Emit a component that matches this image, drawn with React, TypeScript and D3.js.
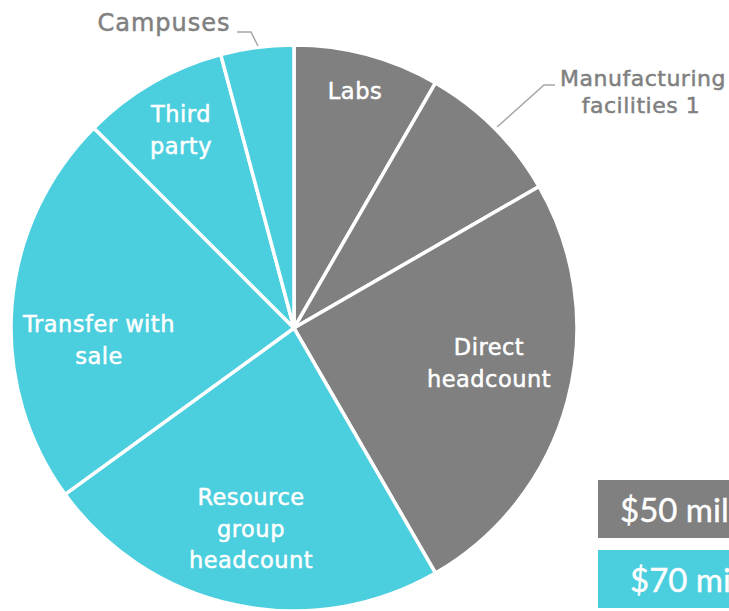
import React from "react";
import * as d3 from "d3";

const categories = ["Labs", "Manufacturing facilities 1", "Direct headcount", "Resource group headcount", "Transfer with sale", "Third party", "Campuses"];
const values = [10, 10, 30, 28, 27, 10, 5];
const groups = ["gray", "gray", "gray", "blue", "blue", "blue", "blue"];
const legendLabels = ["$50 mil", "$70 mil"];

const GRAY = "#808080";
const BLUE = "#4bcedd";

export default function App() {
  const W = 729, H = 611;
  const cx = 294, cy = 328, R = 283;
  const pie = d3.pie<number>().sort(null).value((d) => d)(values);
  const arc = d3.arc<d3.PieArcDatum<number>>().innerRadius(0).outerRadius(R);
  const font = "'DejaVu Sans', sans-serif";

  // inside labels: line breaks and first baseline / center x (layout)
  const inside: { i: number; lines: string[]; x: number; y: number }[] = [
    { i: 0, lines: ["Labs"], x: 355, y: 99 },
    { i: 2, lines: ["Direct", "headcount"], x: 489, y: 355 },
    { i: 3, lines: ["Resource", "group", "headcount"], x: 251, y: 505 },
    { i: 4, lines: ["Transfer with", "sale"], x: 99, y: 332 },
    { i: 5, lines: ["Third", "party"], x: 181, y: 122 },
  ];
  const lh = 31.5;

  return (
    <svg width={W} height={H} style={{ position: "absolute", left: 0, top: 0, fontFamily: font }}>
      <g transform={`translate(${cx},${cy})`}>
        {pie.map((p, i) => (
          <path key={i} d={arc(p) || ""} fill={groups[i] === "gray" ? GRAY : BLUE} stroke="#fff" strokeWidth={3.5} strokeLinejoin="round" />
        ))}
      </g>
      {inside.map(({ i, lines, x, y }) => (
        <text key={i} fill="#fff" stroke="#fff" strokeWidth={0.5} fontSize={22.5} letterSpacing={0.5} textAnchor="middle">
          {lines.map((l, k) => (
            <tspan key={k} x={x} y={y + k * lh}>{l}</tspan>
          ))}
        </text>
      ))}
      {/* outside labels */}
      <polyline points="497,127 544,85 555,85" fill="none" stroke="#a6a6a6" strokeWidth={1.5} />
      <text fill={GRAY} stroke={GRAY} strokeWidth={0.5} fontSize={22} letterSpacing={0.5} textAnchor="middle">
        <tspan x={643} y={86}>{categories[1].split(" ").slice(0, 1).join(" ")}</tspan>
        <tspan x={641} y={113}>{categories[1].split(" ").slice(1).join(" ")}</tspan>
      </text>
      <polyline points="237,32 251,32 258,46" fill="none" stroke="#a6a6a6" strokeWidth={1.5} />
      <text fill={GRAY} stroke={GRAY} strokeWidth={0.5} fontSize={24} letterSpacing={1} textAnchor="middle" x={164} y={31}>{categories[6]}</text>
      {/* legend */}
      <rect x={598} y={480} width={160} height={58} fill={GRAY} />
      <text x={620} y={522} fill="#fff" stroke="#fff" strokeWidth={0.4} fontSize={33} fontFamily="Lato, sans-serif">{legendLabels[0]}</text>
      <rect x={598} y={550} width={160} height={58} fill={BLUE} />
      <text x={630} y={592} fill="#fff" stroke="#fff" strokeWidth={0.4} fontSize={33} fontFamily="Lato, sans-serif">{legendLabels[1]}</text>
    </svg>
  );
}
